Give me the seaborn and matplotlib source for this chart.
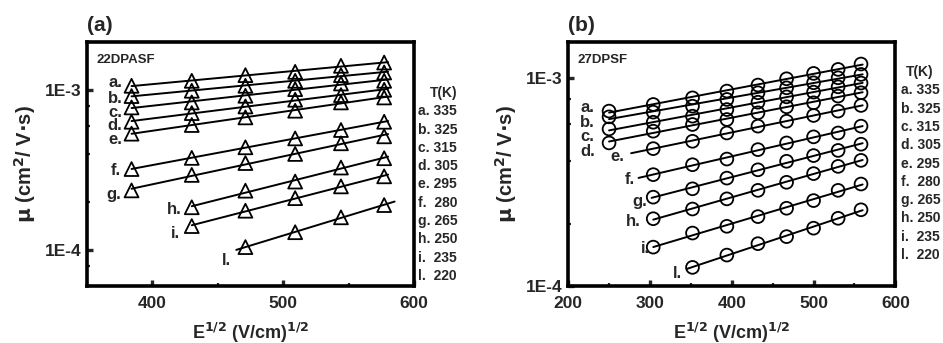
import numpy as np
import pandas as pd
import matplotlib
matplotlib.use("Agg")
import matplotlib.pyplot as plt
import seaborn as sns
from matplotlib.ticker import LogLocator, FixedLocator, MultipleLocator, NullFormatter

sns.set_theme(style="ticks")
plt.rcParams['font.family'] = ['Liberation Sans', 'DejaVu Sans']
plt.rcParams['font.weight'] = 'bold'
plt.rcParams['mathtext.default'] = 'bf'

# ---------------- data ----------------
series_names = ["a.", "b.", "c.", "d.", "e.", "f.", "g.", "h.", "i.", "l."]
temps = ["a. 335", "b. 325", "c. 315", "d. 305", "e. 295", "f.  280", "g. 265", "h. 250", "i.  235", "l.  220"]

# Panel (a): 22DPASF
a_x = [384, 430, 471, 509, 544, 577]
a_vals = {
    "a.": [1.064e-3, 1.143e-3, 1.240e-3, 1.300e-3, 1.418e-3, 1.486e-3],
    "b.": [9.18e-4, 9.91e-4, 1.064e-3, 1.143e-3, 1.240e-3, 1.288e-3],
    "c.": [7.80e-4, 8.38e-4, 9.22e-4, 1.014e-3, 1.100e-3, 1.143e-3],
    "d.": [6.35e-4, 7.19e-4, 7.91e-4, 8.71e-4, 9.31e-4, 1.005e-3],
    "e.": [5.35e-4, 6.06e-4, 6.76e-4, 7.44e-4, 8.38e-4, 9.00e-4],
    "f.": [3.22e-4, 3.78e-4, 4.40e-4, 5.00e-4, 5.64e-4, 6.35e-4],
    "g.": [2.37e-4, 2.96e-4, 3.51e-4, 4.00e-4, 4.66e-4, 5.15e-4],
    "h.": [None, 1.86e-4, 2.36e-4, 2.69e-4, 3.29e-4, 3.76e-4],
    "i.": [None, 1.42e-4, 1.77e-4, 2.12e-4, 2.51e-4, 2.90e-4],
    "l.": [None, None, 1.05e-4, 1.30e-4, 1.61e-4, 1.92e-4],
}
# Panel (b): 27DPSF
b_x = [250, 304, 352, 394, 432, 467, 500, 530, 558]
b_vals = {
    "a.": [6.96e-4, 7.49e-4, 8.06e-4, 8.69e-4, 9.29e-4, 9.96e-4, 1.057e-3, 1.105e-3, 1.173e-3],
    "b.": [6.53e-4, 6.88e-4, 7.35e-4, 7.92e-4, 8.53e-4, 9.01e-4, 9.53e-4, 1.007e-3, 1.045e-3],
    "c.": [5.71e-4, 6.15e-4, 6.58e-4, 7.08e-4, 7.68e-4, 8.15e-4, 8.59e-4, 9.11e-4, 9.50e-4],
    "d.": [4.89e-4, 5.57e-4, 6.00e-4, 6.34e-4, 6.83e-4, 7.30e-4, 7.63e-4, 8.22e-4, 8.53e-4],
    "e.": [None, 4.59e-4, 4.98e-4, 5.46e-4, 5.89e-4, 6.22e-4, 6.63e-4, 6.96e-4, 7.41e-4],
    "f.": [None, 3.44e-4, 3.84e-4, 4.09e-4, 4.54e-4, 4.89e-4, 5.23e-4, 5.46e-4, 5.89e-4],
    "g.": [None, 2.68e-4, 2.94e-4, 3.31e-4, 3.63e-4, 3.99e-4, 4.25e-4, 4.50e-4, 4.82e-4],
    "h.": [None, 2.11e-4, 2.35e-4, 2.63e-4, 2.89e-4, 3.16e-4, 3.48e-4, 3.77e-4, 4.03e-4],
    "i.": [None, 1.54e-4, 1.80e-4, 1.94e-4, 2.16e-4, 2.37e-4, 2.58e-4, 2.89e-4, 3.10e-4],
    "l.": [None, None, 1.23e-4, 1.41e-4, 1.60e-4, 1.73e-4, 1.90e-4, 2.12e-4, 2.33e-4],
}
# fit-line x ranges (start, end)
a_fit_range = {"a.": (384, 580), "b.": (384, 580), "c.": (384, 580), "d.": (384, 580), "e.": (384, 580),
               "f.": (384, 580), "g.": (384, 580), "h.": (430, 580), "i.": (430, 580), "l.": (464, 585)}
b_fit_range = {"a.": (250, 560), "b.": (250, 560), "c.": (250, 560), "d.": (250, 560), "e.": (277, 560),
               "f.": (286, 560), "g.": (302, 560), "h.": (304, 560), "i.": (304, 560), "l.": (345, 560)}
# series label positions (data coordinates, right-aligned)
a_label_pos = {"a.": (377, 1.116e-3), "b.": (377, 8.92e-4), "c.": (377, 7.26e-4), "d.": (377, 6.0e-4),
               "e.": (377, 4.95e-4), "f.": (376, 3.15e-4), "g.": (376, 2.25e-4), "h.": (422, 1.80e-4),
               "i.": (421, 1.27e-4), "l.": (460, 8.67e-5)}
b_label_pos = {"a.": (232, 7.22e-4), "b.": (232, 6.10e-4), "c.": (232, 5.26e-4), "d.": (233, 4.46e-4),
               "e.": (268, 4.21e-4), "f.": (281, 3.25e-4), "g.": (297, 2.55e-4), "h.": (289, 2.05e-4),
               "i.": (300, 1.52e-4), "l.": (339, 1.15e-4)}


def long_df(xs, vals):
    rows = []
    for name in series_names:
        for x, v in zip(xs, vals[name]):
            if v is not None:
                rows.append({"x": x, "mu": v, "series": name})
    return pd.DataFrame(rows)


def fit_df(df, ranges):
    rows = []
    for name in series_names:
        sub = df[df.series == name]
        p = np.polyfit(sub.x, np.log10(sub.mu), 1)
        x0, x1 = ranges[name]
        for xx in (x0, x1):
            rows.append({"x": xx, "mu": 10 ** np.polyval(p, xx), "series": name})
    return pd.DataFrame(rows)


fig = plt.figure(figsize=(9.43, 3.43), dpi=100)
ax_a = fig.add_axes([0.0923, 0.166, 0.347, 0.712])
ax_b = fig.add_axes([0.6025, 0.166, 0.347, 0.712])


def draw(ax, xs, vals, ranges, marker, msize, label_pos, title, tag, xlim, ylim, xmajor, ylabel):
    df = long_df(xs, vals)
    fdf = fit_df(df, ranges)
    for name in series_names:
        sub = fdf[fdf.series == name]
        sns.lineplot(data=sub, x="x", y="mu", ax=ax, color="black", lw=1.4, legend=False)
    sns.scatterplot(data=df, x="x", y="mu", ax=ax, marker=marker, s=msize,
                    facecolor="none", edgecolor="black", linewidth=1.3, legend=False, zorder=3)
    ax.set_yscale("log")
    ax.set_xlim(*xlim)
    ax.set_ylim(*ylim)
    ax.yaxis.set_major_locator(FixedLocator([1e-4, 1e-3]))
    ax.set_yticklabels(["1E-4", "1E-3"])
    ax.yaxis.set_minor_locator(LogLocator(base=10, subs=(2, 4, 6, 8)))
    ax.yaxis.set_minor_formatter(NullFormatter())
    ax.xaxis.set_major_locator(MultipleLocator(xmajor))
    ax.xaxis.set_minor_locator(MultipleLocator(xmajor / 2))
    ax.tick_params(which="major", direction="in", length=4, width=2.4, labelsize=12.5)
    ax.tick_params(axis="x", which="major", pad=7)
    ax.tick_params(axis="y", which="major", pad=4)
    ax.tick_params(which="minor", direction="in", length=2.5, width=1.6)
    for t in ax.get_xticklabels() + ax.get_yticklabels():
        t.set_fontweight("bold")
    for s in ax.spines.values():
        s.set_linewidth(2.6)
        s.set_color("black")
        s.set_visible(True)
    ax.set_xlabel(r"E$^{1/2}$ (V/cm)$^{1/2}$", fontsize=13, fontweight="bold", labelpad=7)
    ax.set_ylabel(ylabel, fontsize=14.5, fontweight="bold", labelpad=5)
    ax.text(0.03, 0.925, title, transform=ax.transAxes, fontsize=9.5, fontweight="bold", va="center")
    ax.text(0.0, 1.03, tag, transform=ax.transAxes, fontsize=15, fontweight="bold", va="bottom")
    for name in series_names:
        lx, ly = label_pos[name]
        ax.text(lx, ly, name, fontsize=12, fontweight="bold", ha="right", va="center")


draw(ax_a, a_x, a_vals, a_fit_range, "^", 100, a_label_pos, "22DPASF", "(a)",
     (350, 600), (6e-5, 2e-3), 100, r"$\mathbf{\mu}$ (cm$^2$/ V$\cdot$s)")
draw(ax_b, b_x, b_vals, b_fit_range, "o", 85, b_label_pos, "27DPSF", "(b)",
     (200, 600), (1e-4, 1.5e-3), 100, r"$\mathbf{\mu}$ (cm$^2$/ V$\cdot$s)")


def temp_column(x_left, y_title, title_x):
    fig.text(title_x / 943, 1 - y_title / 343, "T(K)", fontsize=10, fontweight="bold", va="center")
    for i, t in enumerate(temps):
        y = y_title + 18.3 * (i + 1)
        fig.text(x_left / 943, 1 - y / 343, t, fontsize=10, fontweight="bold", va="center")


temp_column(418, 93, 430)
temp_column(901, 72, 906)

fig.savefig("out.png", dpi=100)
